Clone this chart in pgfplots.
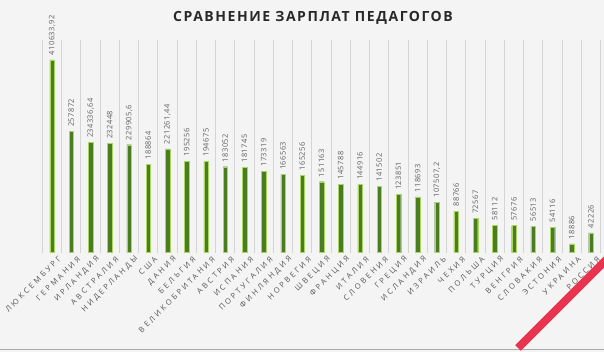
\documentclass[border=0pt]{standalone}
\usepackage{pgfplots}
\usepackage{pgfplotstable}
\pgfplotsset{compat=1.18}
\usepackage{fontspec}
\setmainfont{Open Sans}
\definecolor{bg}{RGB}{244,244,244}
\definecolor{barc}{RGB}{74,124,32}
\definecolor{baredge}{RGB}{170,215,100}
\definecolor{txt}{RGB}{95,95,95}
\definecolor{cat}{RGB}{85,85,85}
\definecolor{ttl}{RGB}{40,40,40}
\definecolor{gridc}{RGB}{212,212,212}
\definecolor{redline}{RGB}{232,52,78}
\pgfplotstableread{
x y label name
0 410633.92 410633,92 ЛЮКСЕМБУРГ
1 257872 257872 ГЕРМАНИЯ
2 234336.64 234336,64 ИРЛАНДИЯ
3 232448 232448 АВСТРАЛИЯ
4 229905.6 229905,6 НИДЕРЛАНДЫ
5 188864 188864 США
6 221261.44 221261,44 ДАНИЯ
7 195256 195256 БЕЛЬГИЯ
8 194675 194675 ВЕЛИКОБРИТАНИЯ
9 183052 183052 АВСТРИЯ
10 181745 181745 ИСПАНИЯ
11 173319 173319 ПОРТУГАЛИЯ
12 166563 166563 ФИНЛЯНДИЯ
13 165256 165256 НОРВЕГИЯ
14 151163 151163 ШВЕЦИЯ
15 145788 145788 ФРАНЦИЯ
16 144916 144916 ИТАЛИЯ
17 141502 141502 СЛОВЕНИЯ
18 123851 123851 ГРЕЦИЯ
19 118693 118693 ИСЛАНДИЯ
20 107507.2 107507,2 ИЗРАИЛЬ
21 88766 88766 ЧЕХИЯ
22 72567 72567 ПОЛЬША
23 58112 58112 ТУРЦИЯ
24 57676 57676 ВЕНГРИЯ
25 56513 56513 СЛОВАКИЯ
26 54116 54116 ЭСТОНИЯ
27 18886 18886 УКРАИНА
28 42226 42226 РОССИЯ
}\datatable
\begin{document}
\begin{tikzpicture}[x=1pt,y=1pt]
\fill[bg] (0,0) rectangle (604,352);
\useasboundingbox (0,0) rectangle (604,352);
\draw[gridc!80!black, line width=1pt] (0,2) -- (604,2);
\begin{axis}[
  at={(42.4pt,99.3pt)}, anchor=south west,
  scale only axis, width=558.2pt, height=212.7pt,
  xmin=-0.5, xmax=28.5, ymin=0, ymax=453000,
  axis line style={draw=none},
  ytick=\empty,
  xtick={0,...,28},
  xticklabels from table={\datatable}{name},
  major tick length=0pt,
  minor xtick={-0.5,0.5,...,28.5},
  minor tick length=0pt,
  xminorgrids=true,
  minor grid style={gridc, line width=0.8pt},
  xticklabel style={rotate=45, anchor=east, yshift=-9pt, xshift=2pt, inner sep=0pt,
    font=\fontsize{7.6}{8}\selectfont\addfontfeature{LetterSpace=34}, text=cat},
  clip=false,
]
\addplot[ybar, bar width=4.5pt, fill=barc, draw=baredge, line width=0.4pt,
  point meta=explicit symbolic,
  nodes near coords={\pgfplotspointmeta},
  every node near coord/.style={rotate=90, anchor=west, inner sep=0pt, xshift=4.5pt,
    font=\fontsize{7.5}{8}\selectfont\addfontfeature{LetterSpace=6}, text=txt}]
  table[x=x, y=y, meta=label] {\datatable};
\end{axis}
\node[font=\bfseries\fontsize{14}{16}\selectfont\addfontfeature{LetterSpace=11}, text=ttl] at (313,334) {СРАВНЕНИЕ ЗАРПЛАТ ПЕДАГОГОВ};
\begin{scope}
\clip (0,0) rectangle (604,352);
\draw[redline, line width=8pt] (518,4) -- (612,98);
\end{scope}
\end{tikzpicture}
\end{document}
